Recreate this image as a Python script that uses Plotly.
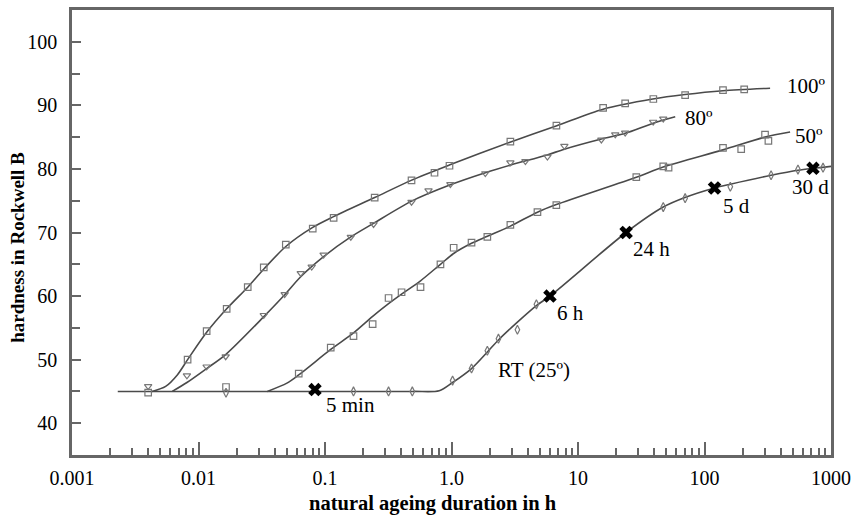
import numpy as np
import plotly.graph_objects as go

# ---------------- data ----------------
# smooth curves (line paths)
x100_line = [0.0043, 0.0055, 0.0068, 0.0082, 0.0116, 0.0167, 0.0245, 0.033, 0.049, 0.08, 0.117, 0.247, 0.48, 0.96, 2.9, 6.8, 15.8, 39, 70, 140, 330]
y100_line = [45, 45.8, 47.6, 50, 54.3, 58, 61.4, 64.3, 67.8, 70.8, 72.5, 75.5, 78.2, 80.6, 84.2, 86.8, 89.4, 91, 91.7, 92.3, 92.7]

x80_line = [0.0062, 0.0081, 0.0116, 0.0164, 0.033, 0.048, 0.064, 0.0975, 0.16, 0.24, 0.48, 0.98, 1.85, 2.92, 5.7, 7.8, 15.3, 23.6, 39.3, 58.7]
y80_line = [45, 46.4, 48.6, 50.8, 56.8, 60.2, 63.0, 66.2, 69.3, 71.4, 74.9, 77.5, 79.4, 80.6, 82.2, 83.1, 84.7, 85.6, 87.2, 88.2]

x50_line = [0.035, 0.05, 0.062, 0.111, 0.168, 0.238, 0.318, 0.403, 0.569, 0.818, 1.04, 1.44, 1.92, 2.92, 4.78, 6.74, 28.9, 47.2, 140, 301, 475]
y50_line = [45, 46.3, 47.6, 51.6, 54.2, 56.8, 58.8, 60.3, 62.4, 65.0, 66.7, 68.3, 69.4, 71.0, 73.2, 74.4, 78.7, 80.3, 83.0, 85.0, 85.8]

xRT_line = [0.0023, 0.1, 0.5, 0.8, 1.02, 1.44, 1.92, 2.35, 3.32, 4.69, 6.0, 24, 47.2, 70, 120, 160, 336, 548, 720, 1000]
yRT_line = [45, 45, 45, 45.1, 46.4, 48.6, 51.2, 53.1, 55.9, 58.5, 60, 70, 74, 75.5, 77, 77.6, 79, 79.8, 80.1, 80.4]

# measured points (markers)
x100_pts = [0.004, 0.0082, 0.0116, 0.0167, 0.0245, 0.0328, 0.049, 0.080, 0.117, 0.247, 0.483, 0.734, 0.964, 2.92, 6.75, 15.8, 23.6, 39.4, 70.3, 140, 206]
y100_pts = [44.8, 50, 54.5, 58, 61.4, 64.5, 68.1, 70.6, 72.3, 75.5, 78.2, 79.4, 80.5, 84.3, 86.8, 89.6, 90.3, 91.0, 91.6, 92.4, 92.5]

x80_pts = [0.004, 0.0081, 0.0116, 0.0164, 0.0328, 0.048, 0.0643, 0.0785, 0.0975, 0.16, 0.242, 0.483, 0.658, 0.98, 1.85, 2.92, 3.84, 5.73, 7.8, 15.3, 19.7, 23.6, 39.3, 47.2]
y80_pts = [45.8, 47.5, 48.9, 50.5, 57.0, 60.3, 63.6, 64.6, 66.5, 69.3, 71.3, 74.8, 76.6, 77.6, 79.3, 81.0, 81.2, 81.9, 83.6, 84.6, 85.4, 85.7, 87.4, 87.9]

x50_pts = [0.0165, 0.062, 0.111, 0.168, 0.238, 0.318, 0.403, 0.569, 0.818, 1.04, 1.44, 1.92, 2.92, 4.78, 6.74, 28.9, 47.2, 52, 140, 195, 301, 320]
y50_pts = [45.7, 47.8, 51.9, 53.7, 55.6, 59.7, 60.6, 61.4, 65.0, 67.6, 68.4, 69.3, 71.2, 73.2, 74.3, 78.7, 80.4, 80.2, 83.3, 83.1, 85.4, 84.4]

xRT_pts = [0.0165, 0.168, 0.318, 0.49, 1.02, 1.44, 1.92, 2.35, 3.32, 4.69, 47.2, 70.3, 160, 336, 548, 865]
yRT_pts = [44.8, 45, 45, 45, 46.7, 48.6, 51.4, 53.3, 54.7, 58.7, 74.0, 75.4, 77.2, 79.0, 79.9, 80.2]

# highlighted RT times (x marks)
x_marks = [0.0833, 6, 24, 120, 720]
y_marks = [45.3, 60, 70, 77, 80.1]

# labels
curve_labels = ["100º", "80º", "50º", "RT (25º)"]
curve_label_x = [10**2.637, 10**1.832, 10**2.70, 10**0.355]
curve_label_y = [93.1, 88.0, 85.2, 48.3]
mark_labels = ["5 min", "6 h", "24 h", "5 d", "30 d"]
mark_label_x = [10**-1.011, 10**0.821, 10**1.421, 10**2.131, 10**2.676]
mark_label_y = [42.8, 57.3, 67.4, 74.1, 77.1]

xtick_vals = [0.001, 0.01, 0.1, 1, 10, 100, 1000]
xtick_text = ["0.001", "0.01", "0.1", "1.0", "10", "100", "1000"]
ytick_vals = [40, 50, 60, 70, 80, 90, 100]

x_title = "natural ageing duration in h"
y_title = "hardness in Rockwell B"

# ---------------- figure ----------------
LINE_C = "#4a4a4a"
MARK_C = "#777777"
FONT = "Liberation Serif"

fig = go.Figure()

for xl, yl in [(xRT_line, yRT_line), (x50_line, y50_line), (x80_line, y80_line), (x100_line, y100_line)]:
    fig.add_trace(go.Scatter(x=xl, y=yl, mode="lines", line=dict(color=LINE_C, width=1.6, shape="spline", smoothing=0.8),
                             showlegend=False, hoverinfo="skip"))

for xp, yp, sym in [(x100_pts, y100_pts, "square-open"), (x80_pts, y80_pts, "triangle-down-open"),
                    (x50_pts, y50_pts, "square-open"), (xRT_pts, yRT_pts, "diamond-tall-open")]:
    fig.add_trace(go.Scatter(x=xp, y=yp, mode="markers",
                             marker=dict(symbol=sym, size=6.5, color=MARK_C, line=dict(width=1.2, color=MARK_C)),
                             showlegend=False))

fig.add_trace(go.Scatter(x=x_marks, y=y_marks, mode="markers",
                         marker=dict(symbol="x", size=12, color="black", line=dict(width=0)),
                         showlegend=False))

for t, xv, yv in zip(curve_labels + mark_labels, curve_label_x + mark_label_x, curve_label_y + mark_label_y):
    fig.add_annotation(x=np.log10(xv), y=yv, text=t, showarrow=False, xanchor="left", yanchor="middle",
                       font=dict(family=FONT, size=21, color="black"))

# axis titles (placed as in the original, slightly off-centre)
fig.add_annotation(xref="paper", yref="paper", x=0.476, y=-0.11, text="<b>" + x_title + "</b>", showarrow=False,
                   xanchor="center", yanchor="middle", borderpad=0,
                   font=dict(family=FONT, size=20.5, color="black"))
fig.add_annotation(xref="paper", yref="paper", x=-0.072, y=0.4665, text="<b>" + y_title + "</b>", showarrow=False,
                   textangle=-90, xanchor="center", yanchor="middle", font=dict(family=FONT, size=19, color="black"))

minor_x = [m * 10.0**e for e in range(-3, 3) for m in range(2, 10)]
minor_y = [45, 55, 65, 75, 85, 95]

fig.update_xaxes(type="log", range=[-3, 3], tickvals=xtick_vals, ticktext=xtick_text,
                 ticks="inside", ticklen=13, tickwidth=2, tickcolor="#666",
                 minor=dict(tickvals=minor_x, ticks="inside", ticklen=7, tickwidth=1.5, tickcolor="#666", showgrid=False),
                 showline=True, linecolor="#666", linewidth=2.5, mirror=True, showgrid=False, zeroline=False,
                 tickfont=dict(family=FONT, size=20, color="black"), ticklabelstandoff=3)
fig.update_yaxes(range=[35, 105], tickvals=ytick_vals,
                 ticks="inside", ticklen=9, tickwidth=2, tickcolor="#666",
                 minor=dict(tickvals=minor_y, ticks="inside", ticklen=8, tickwidth=2, tickcolor="#666", showgrid=False),
                 showline=True, linecolor="#666", linewidth=2.5, mirror=True, showgrid=False, zeroline=False,
                 tickfont=dict(family=FONT, size=20, color="black"), ticklabelstandoff=8)

fig.update_layout(width=858, height=516, margin=dict(l=72, r=24, t=7, b=61),
                  plot_bgcolor="white", paper_bgcolor="white", showlegend=False)

fig.write_html("out.html")
